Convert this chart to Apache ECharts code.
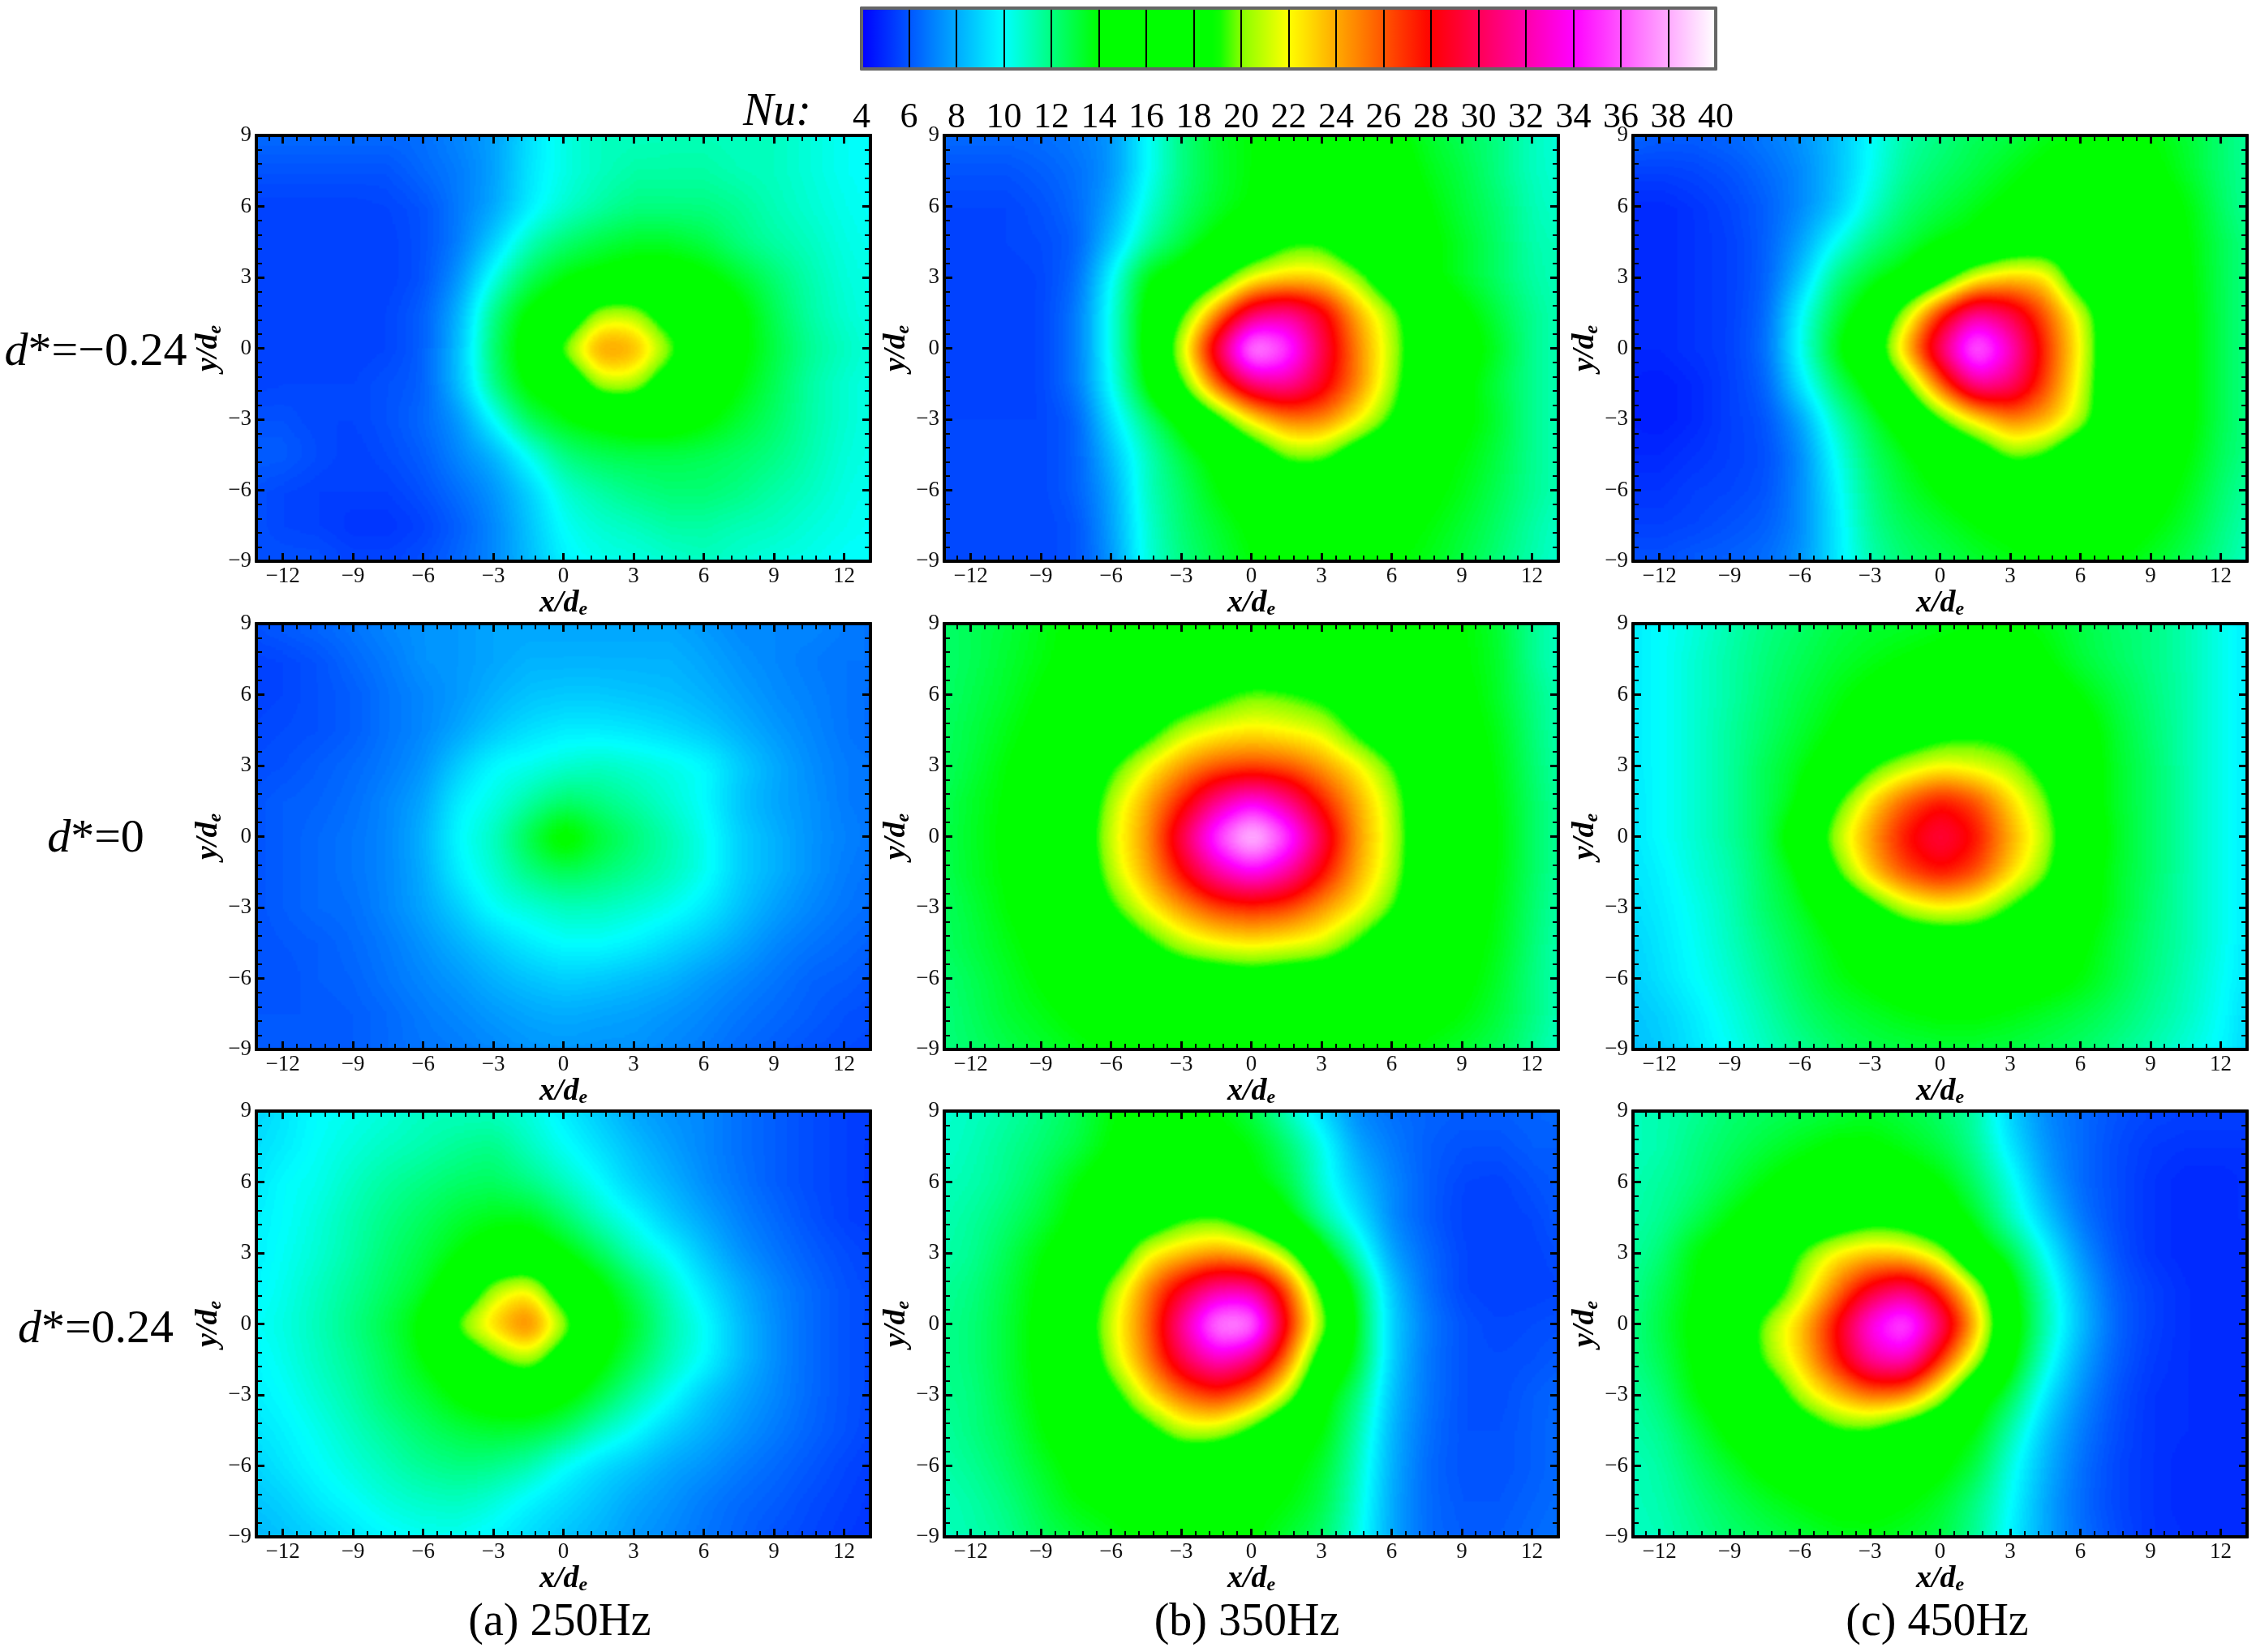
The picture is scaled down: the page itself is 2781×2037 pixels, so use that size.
<!DOCTYPE html>
<html lang="en">

<head>
  <meta charset="UTF-8">
  <title>Nu maps</title>
  <script src="https://cdn.jsdelivr.net/npm/echarts@6/dist/echarts.min.js"></script>
  <style>
    * {
      padding: 0;
      margin: 0;
    }

    #main {
      width: 2781px;
      height: 2037px;
      background: #fff;
    }
  </style>
</head>

<body>
  <div id="main"></div>
  <script>
    // measurement stations of the maps below, one row per y, top row first
    const xCells = [-13.5, -12, -10.5, -9, -7.5, -6, -4.5, -3, -1.5, 0, 1.5, 3, 4.5, 6, 7.5, 9, 10.5, 12, 13.5];
    const yCells = [9, 7.5, 6, 4.5, 3, 1.5, 0, -1.5, -3, -4.5, -6, -7.5, -9];
    const xTicks = [-12, -9, -6, -3, 0, 3, 6, 9, 12];
    const yTicks = [-9, -6, -3, 0, 3, 6, 9];
    // one colour per unit of Nu, 4 to 40
    const nuColors = ['#0000ff', '#002bff', '#0055ff', '#0080ff', '#00aaff', '#00d5ff', '#00ffff', '#00ffc0', '#00ff80', '#00ff40',
      '#00ff00', '#00ff00', '#00ff00', '#00ff00', '#00ff00', '#00ff00', '#88ff00', '#c4ff00', '#ffff00', '#ffd500',
      '#ffaa00', '#ff8000', '#ff5500', '#ff2b00', '#ff0000', '#ff002b', '#ff0055', '#ff0080', '#ff00aa', '#ff00d5',
      '#ff00ff', '#ff2bff', '#ff55ff', '#ff80ff', '#ffaaff', '#ffd5ff', '#ffffff'];

    // d*=-0.24
    const nuA1 = [
      [6.5, 6.5, 6.5, 6.5, 6.5, 6.7, 7.2, 7.8, 9.3, 10.5, 11, 11, 11.2, 11.2, 11, 11, 10.7, 10.2, 10],
      [6, 6, 6, 6, 6, 6.5, 7, 7.8, 9.5, 10.5, 11, 11.5, 11.5, 11.5, 11.2, 11, 10.7, 10.2, 10],
      [5.5, 5.5, 5.5, 5.5, 5.7, 6, 7, 8, 9.7, 10.8, 11.5, 12, 12, 12, 11.7, 11.2, 10.8, 10.3, 10],
      [5.5, 5.5, 5.5, 5.5, 5.5, 6, 7, 9, 11.2, 12.3, 13, 13.5, 13.5, 13, 12, 11.5, 11, 10.5, 10.2],
      [5.5, 5.5, 5.5, 5.5, 5.5, 6, 7.5, 10.5, 12.8, 14, 14.5, 15, 15, 14.5, 13.5, 12.3, 11.3, 10.7, 10.3],
      [5.5, 5.5, 5.5, 5.5, 5.7, 6.2, 8.3, 12, 14.5, 15.5, 21, 21, 17, 16, 14.5, 12.8, 11.5, 10.8, 10.4],
      [5.5, 5.5, 5.5, 5.5, 5.7, 6.3, 8.5, 12.5, 15, 20.5, 25, 24.5, 20.5, 16, 14.5, 13, 11.7, 11, 10.5],
      [5.5, 5.7, 5.7, 5.7, 6, 6.3, 8.5, 12, 14.5, 15, 21, 21, 16.5, 15.5, 14, 12.8, 11.5, 10.8, 10.4],
      [6, 6, 5.7, 5.7, 6, 6.5, 7.5, 10, 12.7, 13.9, 14.5, 15, 15, 14.3, 13.3, 12.5, 11.5, 10.8, 10.4],
      [6.2, 6.2, 5.8, 5.6, 5.8, 6.3, 7.2, 8.3, 10.2, 12, 12.7, 12.9, 12.9, 12.8, 12.5, 12, 11.3, 10.7, 10.4],
      [6, 5.7, 5.5, 5.5, 5.5, 6, 6.7, 7.5, 9, 10.8, 11.5, 12, 12.3, 12.3, 12, 11.5, 11, 10.5, 10.2],
      [6, 5.7, 5.5, 5.3, 5.3, 5.6, 6.3, 7.3, 8.7, 10.2, 10.8, 11, 11.5, 11.5, 11.2, 11, 10.7, 10.3, 10],
      [6, 6, 6, 5.7, 5.7, 6, 6.5, 7.3, 8.5, 9.8, 10.3, 10.5, 10.8, 11, 10.8, 10.5, 10.3, 10, 10]
    ];
    const nuB1 = [
      [6.5, 6.5, 6.5, 6.7, 7, 7.5, 10, 12, 13.5, 14, 14.5, 15, 15, 14.5, 13.5, 12.8, 12, 11, 10.5],
      [6, 6, 6, 6.3, 6.7, 7.5, 10, 12, 13.3, 14, 15, 15.5, 15.5, 15, 13.8, 13, 12, 11, 10.7],
      [5.7, 5.7, 5.7, 6, 6.5, 8, 10.7, 12.3, 13.5, 14.2, 15, 16, 16, 15.5, 14.2, 13.2, 12.3, 11.2, 10.8],
      [5.5, 5.5, 5.7, 5.8, 6.2, 8.7, 11.5, 13, 14.5, 16, 19, 19, 16, 15.5, 14.5, 13.5, 12.5, 11.3, 11],
      [5.5, 5.5, 5.5, 5.7, 6.5, 10, 14, 15, 18, 22, 23, 23, 20.5, 16, 14.5, 13.5, 12.5, 11.5, 11],
      [5.5, 5.5, 5.5, 5.7, 6.8, 10.5, 14.5, 19, 25, 30.5, 32, 29, 24, 20.5, 15.5, 14.5, 13, 11.7, 11],
      [5.5, 5.5, 5.5, 5.7, 6.8, 10.5, 14.5, 21.5, 30, 39, 36, 30, 25, 21, 16, 15, 13.5, 11.8, 11],
      [5.5, 5.5, 5.5, 5.7, 6.8, 10.2, 14, 19, 26, 31, 32, 29, 25, 20.5, 15.5, 14.5, 13, 11.7, 11],
      [5.7, 5.7, 5.7, 5.7, 6.3, 9.3, 12, 14.5, 18, 22.5, 25, 25, 22.5, 19, 15.5, 14.5, 13.3, 11.8, 11],
      [5.7, 5.7, 5.7, 5.7, 6.3, 8.5, 11, 13, 14.5, 16.5, 20, 20, 17, 15, 14.5, 14, 13, 11.8, 11],
      [5.7, 5.7, 5.7, 5.7, 6.2, 8, 11, 12.5, 14, 15, 16, 16, 15.5, 15, 14.5, 13.7, 12.8, 11.7, 11],
      [5.7, 5.7, 5.7, 5.7, 6, 7.8, 10.8, 12.3, 13.3, 14.3, 15, 15, 15, 14.5, 14, 13.3, 12.5, 11.5, 10.8],
      [5.8, 5.8, 5.7, 5.7, 6, 7.6, 10.7, 12, 13, 14, 14.5, 14.5, 14.5, 14.2, 13.7, 13, 12.2, 11.3, 10.7]
    ];
    const nuC1 = [
      [6.5, 6.3, 6.3, 6.5, 7, 7.5, 8.5, 10, 11.5, 12, 12.7, 13, 13.8, 14, 14.3, 14, 13.3, 12.3, 11.5],
      [5.5, 5.5, 5.7, 6, 6.5, 7.3, 8.5, 10.2, 11.7, 12.5, 13, 13.8, 14.5, 15, 15, 14.5, 13.5, 12.3, 11.5],
      [5, 5, 5.3, 5.7, 6.3, 7.2, 8.7, 10.8, 12.3, 13, 13.7, 14.5, 15, 15.5, 15.5, 15, 14, 12.5, 11.5],
      [5, 5, 5.2, 5.5, 6.2, 7.8, 10.2, 12, 13, 14, 14.5, 16.5, 17, 16, 15.5, 15.3, 14.2, 12.7, 11.7],
      [5, 5, 5.2, 5.5, 6.2, 8.7, 12, 13.5, 14.5, 17.5, 22, 23.5, 23, 16.5, 15, 15, 14.3, 12.8, 11.8],
      [5, 5, 5.2, 5.5, 6.4, 10, 13, 15, 21, 27.5, 32, 30, 26, 21.5, 15.5, 15, 14.5, 12.8, 11.8],
      [5, 5, 5.2, 5.5, 6.5, 10.3, 13.8, 16.5, 24, 31, 38, 33, 27, 22, 15.5, 15, 14.5, 12.8, 11.8],
      [4.8, 4.7, 5, 5.5, 6.3, 9.5, 12.5, 14.5, 19, 26, 32, 31, 26.5, 21.5, 15.5, 15, 14.5, 12.8, 11.8],
      [4.8, 4.7, 5, 5.5, 6, 7.8, 11, 13, 15, 19, 22.5, 25, 24, 21, 15.5, 15, 14.5, 12.8, 11.8],
      [5, 5, 5.2, 5.5, 5.8, 7.3, 10.2, 12.5, 13.8, 15, 16.5, 20, 19, 15.5, 15, 15, 14.2, 12.6, 11.7],
      [5.2, 5.3, 5.5, 5.7, 6, 7.2, 9.8, 12, 13.3, 14.2, 15, 15.5, 15.5, 15.5, 15.2, 14.7, 13.7, 12.3, 11.3],
      [5.5, 5.6, 5.7, 6, 6.3, 7.3, 9.5, 11.7, 12.7, 13.3, 14, 14.5, 15, 15, 14.8, 14.2, 13.3, 12, 11],
      [6, 6, 6.2, 6.4, 6.7, 7.5, 9.5, 11.3, 12.3, 12.8, 13.3, 13.7, 14, 14.2, 14, 13.5, 12.7, 11.7, 10.8]
    ];

    // d*=0
    const nuA2 = [
      [6, 6.3, 6.5, 6.8, 7.2, 7.5, 7.7, 8, 8, 8, 8, 8, 8, 7.7, 7.3, 7.2, 7.2, 6.9, 6.7],
      [5.5, 5.7, 6, 6.5, 7, 7.5, 7.7, 8, 8.2, 8.2, 8.2, 8.2, 8.2, 8, 7.6, 7.3, 7, 6.8, 6.8],
      [5.5, 5.7, 6, 6.3, 6.8, 7.3, 7.7, 8.2, 8.6, 8.8, 8.8, 8.7, 8.5, 8.2, 7.8, 7.4, 7.1, 6.8, 6.6],
      [5.7, 5.8, 6, 6.3, 6.8, 7.3, 8, 8.8, 9.3, 9.6, 9.7, 9.5, 9.2, 8.8, 8.2, 7.7, 7.2, 6.8, 6.6],
      [5.8, 6, 6.2, 6.5, 7, 7.6, 9, 10, 10.4, 10.8, 11, 10.8, 10.5, 10, 9, 8.1, 7.4, 7, 6.8],
      [6, 6.2, 6.4, 6.7, 7.2, 8, 9.8, 10.5, 11.5, 12.5, 12, 11.5, 10.8, 10, 8.7, 8, 7.5, 7, 6.8],
      [6, 6.2, 6.5, 6.8, 7.3, 8.2, 10, 11, 13, 15, 13.3, 12.3, 11.3, 10.3, 9, 8.2, 7.5, 7.1, 6.8],
      [6, 6.2, 6.5, 6.8, 7.3, 8.1, 9.8, 10.8, 12, 12.7, 12.3, 11.8, 11.2, 10.3, 9, 8.2, 7.5, 7, 6.7],
      [6, 6.2, 6.5, 6.7, 7.2, 7.9, 9, 10.2, 10.7, 11, 11, 10.8, 10.4, 9.6, 8.6, 7.8, 7.2, 6.8, 6.5],
      [6, 6.1, 6.3, 6.6, 7, 7.6, 8.3, 9, 9.7, 10, 10, 9.8, 9.2, 8.6, 7.9, 7.3, 6.8, 6.5, 6.3],
      [6, 6, 6.2, 6.4, 6.8, 7.2, 7.7, 8.3, 8.7, 8.9, 8.8, 8.5, 8.2, 7.7, 7.2, 6.8, 6.4, 6.2, 6],
      [6.1, 6.1, 6.1, 6.3, 6.6, 7, 7.3, 7.7, 8, 8.1, 8, 7.8, 7.6, 7.2, 6.8, 6.5, 6.2, 6, 5.8],
      [6.2, 6.1, 6.1, 6.2, 6.5, 6.8, 7, 7.3, 7.6, 7.7, 7.6, 7.5, 7.3, 7, 6.6, 6.3, 6, 5.8, 5.7]
    ];
    const nuB2 = [
      [12.3, 12.7, 13.2, 13.8, 14.3, 15, 15.5, 16, 16, 15.8, 15.5, 15.3, 15, 14.8, 14.5, 14.1, 13.3, 11.8, 10.8],
      [12.3, 12.8, 13.3, 13.9, 14.5, 15.3, 16, 16.3, 16.3, 16.2, 16, 15.8, 15.5, 15.2, 14.7, 14.2, 13.4, 11.8, 10.8],
      [12.3, 12.9, 13.5, 14.2, 14.8, 15.5, 16, 17, 18.5, 20, 19.5, 18.5, 17, 15.8, 15, 14.4, 13.5, 12, 11],
      [12.4, 13, 13.7, 14.5, 15, 15.7, 18, 21, 22, 22.5, 22, 21.5, 18.5, 16, 15.3, 14.6, 13.7, 12.2, 11.1],
      [12.5, 13.2, 14, 14.8, 15.3, 19, 22, 24.5, 26, 26.5, 26, 24.5, 22.5, 19.5, 15.5, 14.8, 13.9, 12.3, 11.2],
      [12.6, 13.4, 14.2, 15, 15.8, 21, 24, 27.5, 31.5, 34, 31.5, 27.5, 24, 21, 15.9, 15, 14, 12.4, 11.3],
      [12.7, 13.5, 14.3, 15, 16.5, 21.5, 24.5, 30, 36, 41, 36, 30, 24.5, 21.2, 16, 15, 14.2, 12.5, 11.4],
      [12.6, 13.4, 14.2, 15, 15.8, 21, 24, 28, 32, 34, 32, 28, 24, 21, 15.9, 15, 14, 12.4, 11.3],
      [12.5, 13.2, 14, 14.8, 15.3, 19, 22, 24.5, 26.5, 27, 26.5, 24.5, 22.5, 19.5, 15.5, 14.8, 13.9, 12.3, 11.2],
      [12.4, 13, 13.7, 14.5, 15, 16, 18.5, 21, 22, 22.5, 22, 21.5, 19, 16, 15.3, 14.6, 13.7, 12.2, 11.1],
      [12.2, 12.8, 13.5, 14.2, 14.8, 15.5, 16, 16.5, 17, 17.5, 17, 16.5, 16, 15.5, 15, 14.4, 13.5, 12, 11],
      [12.1, 12.6, 13.3, 13.8, 14.3, 14.8, 15.3, 15.7, 15.8, 15.8, 15.8, 15.7, 15.5, 15.1, 14.6, 14, 13.2, 12, 10.9],
      [12, 12.4, 12.9, 13.3, 13.7, 14, 14.3, 14.5, 14.6, 14.6, 14.6, 14.5, 14.3, 14, 13.7, 13.3, 12.7, 11.7, 10.8]
    ];
    const nuC2 = [
      [9.5, 10, 10.7, 11.3, 12, 12.5, 13, 13.3, 13.5, 13.8, 14, 14.1, 13.8, 13, 12.5, 12, 11.3, 10.3, 9.3],
      [9.5, 10, 10.8, 11.5, 12.2, 12.8, 13.3, 13.8, 14.2, 14.5, 15, 15, 14.2, 13.2, 12.6, 12, 11.3, 10.3, 9.3],
      [9.5, 10, 10.8, 11.5, 12.3, 13, 13.7, 14.5, 15, 15.5, 15.5, 15.5, 15, 14, 13, 12.2, 11.4, 10.3, 9.3],
      [9.5, 10, 10.8, 11.6, 12.5, 13.3, 14.2, 15.5, 16.5, 18, 18.5, 18, 16.5, 14.8, 13.3, 12.3, 11.4, 10.3, 9.3],
      [9.5, 10, 10.8, 11.6, 12.7, 13.7, 15, 19, 21, 22, 21.5, 20.5, 18, 15, 13.5, 12.4, 11.4, 10.3, 9.3],
      [9.3, 10, 10.8, 11.6, 12.8, 14, 19, 23, 26, 28, 26.5, 23, 20, 15, 13.5, 12.4, 11.4, 10.3, 9.3],
      [9.3, 10, 10.8, 11.6, 12.8, 15.5, 21, 24.5, 28, 30, 28, 24, 21, 15.5, 13.6, 12.4, 11.4, 10.3, 9.3],
      [9.3, 9.8, 10.6, 11.4, 12.6, 14, 19, 23.5, 26.5, 28, 26.5, 23, 20, 15, 13.5, 12.4, 11.4, 10.3, 9.3],
      [9.2, 9.7, 10.4, 11.2, 12.4, 13.5, 15, 18, 21, 22, 21.5, 19, 16.5, 14.8, 13.4, 12.3, 11.3, 10.3, 9.3],
      [9, 9.5, 10.2, 11, 12, 13, 14, 15, 16, 16.5, 16.5, 16, 15, 14.3, 13.2, 12.2, 11.3, 10.3, 9.2],
      [8.8, 9.3, 10, 10.8, 11.7, 12.7, 13.7, 14.3, 15, 15.3, 15.3, 15, 14.6, 14, 13, 12, 11.2, 10.2, 9.2],
      [8.6, 9, 9.7, 10.5, 11.4, 12.3, 13, 13.5, 13.9, 14.1, 14.1, 13.9, 13.5, 13, 12.4, 11.7, 11, 10.1, 9],
      [8.5, 8.8, 9.5, 10.2, 11, 11.8, 12.5, 12.9, 13.1, 13.2, 13.2, 13, 12.8, 12.4, 11.9, 11.3, 10.7, 9.9, 8.8]
    ];

    // d*=0.24
    const nuA3 = [
      [9, 9.5, 10, 10.3, 10.7, 11, 11, 11, 10.7, 9.6, 8.8, 8, 7.6, 7.2, 6.7, 6.2, 5.8, 5.6, 5.5],
      [9.2, 9.7, 10.2, 10.7, 11, 11.4, 11.8, 12, 11, 10.2, 9.3, 8.5, 7.8, 7.2, 6.7, 6.2, 5.8, 5.5, 5.3],
      [9.4, 10, 10.4, 11, 11.6, 12, 12.5, 12.6, 12, 11, 10, 9, 8.2, 7.4, 6.8, 6.3, 5.8, 5.5, 5.3],
      [9.6, 10.1, 10.6, 11.3, 12, 12.6, 13.3, 13.8, 13.8, 12.5, 11, 10, 8.8, 7.9, 7.1, 6.5, 6, 5.6, 5.4],
      [9.7, 10.2, 10.8, 11.5, 12.3, 13, 14, 15, 15.5, 14.2, 12.7, 11, 10, 8.6, 7.5, 6.8, 6.2, 5.8, 5.5],
      [9.8, 10.3, 11, 11.7, 12.6, 13.5, 15.5, 21, 22.5, 16.5, 14.5, 12.7, 11, 9.5, 8.2, 7.2, 6.5, 6, 5.7],
      [10, 10.5, 11.2, 12, 13, 14.3, 20.5, 23.5, 26, 21, 15, 13.5, 11.5, 10.2, 8.5, 7.4, 6.6, 6, 5.7],
      [9.8, 10.3, 11, 11.8, 12.8, 14, 15.5, 19, 21, 16.5, 14.5, 12.8, 11.2, 10, 8.5, 7.4, 6.6, 6, 5.7],
      [9.6, 10.1, 10.8, 11.5, 12.4, 13.2, 14.3, 15, 15.3, 14.5, 13, 11.5, 10.2, 8.8, 7.9, 7.2, 6.5, 6, 5.7],
      [9.4, 9.8, 10.4, 11.1, 11.8, 12.4, 13, 13.3, 13.2, 12.5, 11, 10, 9, 8.2, 7.6, 7, 6.4, 6, 5.6],
      [9, 9.5, 10, 10.6, 11.2, 11.7, 12, 11.9, 11.4, 10, 9.2, 8.6, 8, 7.5, 7, 6.5, 6.1, 5.7, 5.4],
      [8.6, 9, 9.6, 10.1, 10.6, 10.9, 11, 10.6, 9.8, 9.2, 8.6, 8, 7.5, 7, 6.6, 6.2, 5.8, 5.5, 5.3],
      [8.2, 8.6, 9, 9.5, 9.9, 10.2, 10.2, 9.8, 9.2, 8.7, 8.2, 7.7, 7.2, 6.8, 6.4, 6, 5.7, 5.4, 5.3]
    ];
    const nuB3 = [
      [10.8, 11, 11.5, 12, 12.8, 14, 14.3, 14.5, 14, 13, 11.2, 9.2, 7.3, 6.7, 6.4, 6.3, 6.3, 6.4, 6.5],
      [10.8, 11.2, 11.7, 12.3, 13, 14.2, 15, 15, 14.7, 14, 12.5, 10.5, 8, 7, 6.3, 6, 6, 6.2, 6.3],
      [11, 11.3, 11.9, 12.7, 14, 15, 15.5, 15.5, 15, 14.3, 13, 10.7, 8.6, 7.2, 6.3, 5.7, 5.6, 6, 6.3],
      [11.2, 11.6, 12.3, 13.2, 14.5, 15.5, 16.5, 19, 19.5, 17.5, 14.3, 11.5, 9.5, 7.3, 6.3, 5.6, 5.5, 5.7, 6.2],
      [11.4, 11.8, 12.7, 14, 15, 16.5, 22, 23.5, 24.5, 23.5, 20.5, 14.5, 11, 7.8, 6.5, 5.7, 5.5, 5.5, 6],
      [11.6, 12, 13, 14.3, 15.5, 20.5, 25, 29, 32, 32, 26.5, 18.5, 13, 8.7, 6.7, 5.7, 5.5, 5.5, 5.7],
      [11.8, 12.2, 13.2, 14.5, 16.5, 21.5, 25.5, 32, 38, 38, 28, 20.5, 13.5, 9, 6.9, 6, 5.7, 5.8, 6],
      [11.8, 12.2, 13.2, 14.5, 15.5, 21, 25, 30, 33, 31, 25.5, 17, 13.3, 8.8, 6.8, 6, 5.8, 6, 6.2],
      [11.7, 12.1, 13, 14.3, 15.2, 18, 22.5, 25.5, 27, 25, 21, 14.5, 12.2, 8.5, 6.8, 6, 5.9, 6.2, 6.6],
      [11.5, 12, 12.8, 14, 15, 15.7, 18, 21, 21, 18.5, 15, 14.2, 11.5, 8.3, 6.7, 6, 6, 6.3, 6.7],
      [11.3, 11.7, 12.4, 13.5, 14.5, 15, 15.5, 16, 15.5, 15, 14.5, 13.5, 11, 8.1, 6.6, 6, 6, 6.3, 6.7],
      [11.1, 11.5, 12.1, 13, 14, 14.3, 14.8, 15, 14.8, 14.5, 14, 13, 10.8, 8, 6.6, 6.1, 6.1, 6.4, 6.7],
      [11, 11.3, 11.8, 12.6, 13.2, 13.8, 14.2, 14.5, 14.5, 14.2, 13.3, 12.5, 10.5, 7.9, 6.6, 6.2, 6.3, 6.5, 6.8]
    ];
    const nuC3 = [
      [11, 11.3, 11.8, 12.3, 12.6, 12.9, 13.2, 13.5, 13, 12.4, 11.5, 9, 7.3, 6.5, 6, 5.7, 5.5, 5.5, 5.5],
      [11, 11.4, 12, 12.6, 13.2, 13.7, 14.3, 14.3, 13.8, 13, 11.7, 9.5, 7.5, 6.5, 5.8, 5.4, 5.2, 5.2, 5.3],
      [11.2, 11.6, 12.2, 13, 14, 14.8, 15.3, 15.3, 15, 14.2, 12.5, 10.5, 8, 6.6, 5.8, 5.3, 5, 5, 5.2],
      [11.4, 11.8, 12.7, 14, 15, 15.5, 16.5, 18, 17.5, 15.5, 13.5, 11, 8.8, 6.8, 5.8, 5.3, 5, 5, 5.2],
      [11.5, 12.2, 14, 15, 15.8, 19.5, 22.5, 23.5, 23, 21, 15, 13, 10, 7.6, 6, 5.3, 5, 5, 5],
      [11.6, 12.8, 14.2, 15, 16.5, 21, 25, 29, 31, 27, 21.5, 14.5, 11, 8.3, 6.3, 5.5, 5.1, 5, 5],
      [11.8, 13, 14.5, 15.3, 20.5, 23.5, 28, 34, 37, 31, 24, 15, 11.3, 8.5, 6.4, 5.5, 5.1, 5, 5],
      [11.7, 12.8, 14.3, 15.2, 20, 23, 27.5, 32, 33, 27, 21, 14.3, 10.7, 8, 6.2, 5.4, 5.1, 5, 5],
      [11.5, 12.2, 14, 15, 16, 21, 23.5, 25.5, 25, 21, 15, 12.8, 9.5, 7.4, 6, 5.3, 5.1, 5, 5],
      [11.3, 11.8, 13, 14.5, 15.3, 16.5, 19, 19, 16.8, 15, 14, 11.3, 8.6, 7, 5.8, 5.3, 5.1, 5, 5],
      [11.1, 11.5, 12.4, 13.5, 14.5, 15, 15.3, 15.3, 15, 14.5, 13, 10.5, 8.2, 6.7, 5.7, 5.2, 5, 5, 5],
      [11, 11.3, 12, 12.8, 13.5, 14, 14.5, 14.5, 14.1, 13.5, 12, 10, 8, 6.6, 5.7, 5.2, 5, 5, 5],
      [10.9, 11.2, 11.7, 12.3, 12.8, 13.2, 13.6, 13.7, 13.5, 13, 11.8, 9.8, 8, 6.7, 5.8, 5.3, 5.1, 5, 5]
    ];
    const panels = [nuA1, nuB1, nuC1, nuA2, nuB2, nuC2, nuA3, nuB3, nuC3];

    const serif = '"Liberation Serif", "Times New Roman", serif';
    const gridLeft = [316, 1164, 2013], gridTop = [167, 769, 1370];
    const gridW = 757, gridH = 525;
    const xLim = 13.13;
    const nuMin = 4, nuMax = 40;

    // ticks between the labelled ones, every 0.6
    function minorTicks(majors) {
      let out = [];
      for (let m = majors[0] - 3; m < majors[majors.length - 1]; m += 3) {
        for (let k = 1; k < 5; k++) out.push(m + k * 0.6);
      }
      return out;
    }

    // grey level 0-255 to rgb, same ramp as the visualMap
    const grayRamp = [];
    for (let g = 0; g < 256; g++) {
      const pos = g / 255 * (nuColors.length - 1), lo = Math.min(Math.floor(pos), nuColors.length - 2), t = pos - lo;
      const a = parseInt(nuColors[lo].slice(1), 16), b = parseInt(nuColors[lo + 1].slice(1), 16);
      grayRamp.push([16, 8, 0].map(s => Math.round(((a >> s) & 255) * (1 - t) + ((b >> s) & 255) * t)));
    }

    // the cell values go in as one grey pixel each; the picture is softened while it still
    // holds values and only then coloured, so the bands stay clean between cells
    function cellRenderer() {
      const cols = xCells.length, rows = yCells.length, soft = 24;
      const cvs = document.createElement('canvas');
      cvs.width = cols;
      cvs.height = rows;
      const ctx = cvs.getContext('2d');
      const big = document.createElement('canvas');
      big.width = cols * soft;
      big.height = rows * soft;
      return function (params, api) {
        const i = params.dataIndex;
        const g = Math.round(Math.min(1, (api.value(2) - nuMin) / (nuMax - nuMin)) * 255);
        ctx.fillStyle = 'rgb(' + g + ',' + g + ',' + g + ')';
        ctx.fillRect(i % cols, Math.floor(i / cols), 1, 1);
        if (i < cols * rows - 1) return;
        const b2 = big.getContext('2d');
        b2.filter = 'none';
        b2.drawImage(cvs, 0, 0, big.width, big.height);
        b2.filter = 'blur(7px)';
        b2.drawImage(cvs, 0, 0, big.width, big.height);
        b2.filter = 'none';
        const img = b2.getImageData(0, 0, big.width, big.height);
        for (let p = 0; p < img.data.length; p += 4) {
          const c = grayRamp[img.data[p]];
          img.data[p] = c[0];
          img.data[p + 1] = c[1];
          img.data[p + 2] = c[2];
          img.data[p + 3] = 255;
        }
        b2.putImageData(img, 0, 0);
        const a = api.coord([xCells[0] - 0.75, yCells[0] + 0.75]);
        const b = api.coord([xCells[cols - 1] + 0.75, yCells[rows - 1] - 0.75]);
        return { type: 'image', style: { image: big, x: a[0], y: a[1], width: b[0] - a[0], height: b[1] - a[1] } };
      };
    }

    const fmt = v => String(v).replace('-', '\u2212');
    const nameRich = {
      a: { fontFamily: serif, fontSize: 38, fontWeight: 'bold', fontStyle: 'italic', color: '#000' },
      b: { fontFamily: serif, fontSize: 24, fontWeight: 'bold', fontStyle: 'italic', color: '#000', padding: [16, 0, 0, 0] }
    };
    const lineStyle = { color: '#000', width: 4 };

    function panelAxis(kind, gi, pos, vals, len, opts) {
      const lim = kind === 'x' ? xLim : 9;
      return Object.assign({
        type: 'value', gridIndex: gi, position: pos, min: -lim, max: lim, z: 3,
        splitLine: { show: false },
        axisLine: { show: true, onZero: false, lineStyle: lineStyle },
        axisTick: { show: true, inside: true, length: len, customValues: vals, lineStyle: { color: '#000', width: len > 8 ? 3 : 2 } },
        axisLabel: { show: false, customValues: vals }
      }, opts || {});
    }

    let grids = [], xAxes = [], yAxes = [], series = [];
    panels.forEach(function (rows, gi) {
      grids.push({ left: gridLeft[gi % 3], top: gridTop[Math.floor(gi / 3)], width: gridW, height: gridH });
      const firstX = xAxes.length, firstY = yAxes.length;
      const label = {
        show: true, fontFamily: serif, fontSize: 27, color: '#111', formatter: fmt
      };
      xAxes.push(
        panelAxis('x', gi, 'bottom', xTicks, 10, {
          axisLabel: Object.assign({ customValues: xTicks, margin: 5 }, label),
          name: '{a|x/d}{b|e}', nameLocation: 'middle', nameGap: 24, nameTextStyle: { rich: nameRich }
        }),
        panelAxis('x', gi, 'top', xTicks, 10),
        panelAxis('x', gi, 'bottom', minorTicks(xTicks), 7),
        panelAxis('x', gi, 'top', minorTicks(xTicks), 7)
      );
      yAxes.push(
        panelAxis('y', gi, 'left', yTicks, 10, {
          axisLabel: Object.assign({ customValues: yTicks, margin: 6 }, label),
          name: '{a|y/d}{b|e}', nameLocation: 'middle', nameGap: 25, nameTextStyle: { rich: nameRich }
        }),
        panelAxis('y', gi, 'right', yTicks, 10),
        panelAxis('y', gi, 'left', minorTicks(yTicks), 7),
        panelAxis('y', gi, 'right', minorTicks(yTicks), 7)
      );
      let cells = [];
      rows.forEach(function (row, r) {
        row.forEach(function (v, c) {
          cells.push([xCells[c], yCells[r], v]);
        });
      });
      series.push({
        type: 'custom', xAxisIndex: firstX, yAxisIndex: firstY, clip: true, silent: true,
        renderItem: cellRenderer(), encode: { x: 0, y: 1 }, data: cells
      });
    });

    // colour bar: the visualMap bar itself, with an axis over it for dividers and labels
    const barLeft = 1062, barTop = 10, barW = 1053, barH = 75;
    grids.push({ left: barLeft, top: barTop, width: barW, height: barH });
    const barGrid = grids.length - 1;
    const barFrame = { show: true, onZero: false, lineStyle: { color: '#666', width: 4 } };
    xAxes.push({
      type: 'value', gridIndex: barGrid, position: 'bottom', min: nuMin, max: nuMax, interval: 2, z: 10,
      axisLine: barFrame, axisTick: { show: false },
      splitLine: { show: true, lineStyle: { color: '#000', width: 2 } },
      axisLabel: { fontFamily: serif, fontSize: 44, color: '#000', margin: 38 }
    }, {
      type: 'value', gridIndex: barGrid, position: 'top', min: nuMin, max: nuMax, z: 10,
      axisLine: barFrame, axisTick: { show: false }, splitLine: { show: false }, axisLabel: { show: false }
    });
    yAxes.push({
      type: 'value', gridIndex: barGrid, position: 'left', min: 0, max: 1, z: 10,
      axisLine: barFrame, axisTick: { show: false }, splitLine: { show: false }, axisLabel: { show: false }
    }, {
      type: 'value', gridIndex: barGrid, position: 'right', min: 0, max: 1, z: 10,
      axisLine: barFrame, axisTick: { show: false }, splitLine: { show: false }, axisLabel: { show: false }
    });

    function note(text, x, y, size) {
      return {
        type: 'text', x: x, y: y,
        style: {
          text: text, textAlign: 'center', textVerticalAlign: 'middle',
          fontFamily: serif, fontSize: size, fill: '#000',
          rich: {
            i: { fontFamily: serif, fontSize: size, fontStyle: 'italic', fill: '#000' },
            r: { fontFamily: serif, fontSize: size, fill: '#000' }
          }
        }
      };
    }

    const option = {
      animation: false,
      backgroundColor: '#fff',
      grid: grids,
      xAxis: xAxes,
      yAxis: yAxes,
      visualMap: {
        type: 'continuous', min: nuMin, max: nuMax, dimension: 2,
        seriesIndex: series.map((s, i) => i),
        orient: 'horizontal', left: barLeft, top: barTop, itemWidth: barH, itemHeight: barW,
        padding: 0, text: null, showLabel: false, calculable: false, hoverLink: false,
        inRange: { color: nuColors }
      },
      graphic: [
        note('{i|Nu:}', 958, 139, 56),
        note('{i|d}{r|*=\u22120.24}', 118, 435, 58),
        note('{i|d}{r|*=0}', 118, 1035, 58),
        note('{i|d}{r|*=0.24}', 118, 1640, 58),
        note('(a) 250Hz', 690, 2001, 56),
        note('(b) 350Hz', 1537, 2001, 56),
        note('(c) 450Hz', 2388, 2001, 56)
      ],
      series: series
    };

    const myChart = echarts.init(document.getElementById('main'));
    myChart.setOption(option);
  </script>
</body>

</html>
